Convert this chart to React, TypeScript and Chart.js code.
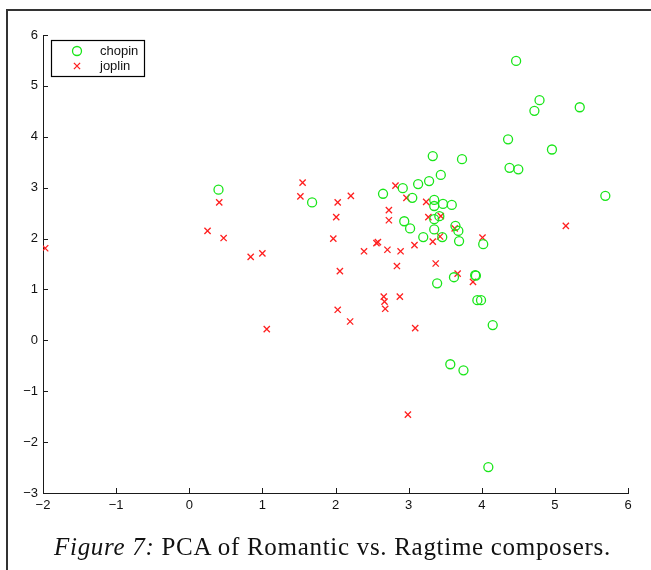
import React, { useEffect, useRef } from "react";
import { Chart, registerables } from "chart.js";

Chart.register(...registerables);

// PCA scores, first two components
const chopinX = [
  0.40, 1.68,
  4.47, 4.79, 4.72, 5.34, 4.36, 4.96, 4.38, 4.50, 5.69,
  3.33, 3.73, 3.44, 3.28, 3.13, 2.92, 2.65, 3.05, 3.35, 3.35, 3.47, 3.59,
  2.94, 3.02, 3.35, 3.42, 3.35, 3.20, 3.46, 3.64, 3.68, 3.69, 4.02,
  3.39, 3.62, 3.91, 3.92, 3.94, 3.99, 4.15, 3.57, 3.75, 4.09,
];
const chopinY = [
  2.96, 2.71,
  5.49, 4.72, 4.51, 4.58, 3.95, 3.75, 3.39, 3.36, 2.84,
  3.62, 3.56, 3.25, 3.13, 3.07, 2.99, 2.88, 2.80, 2.76, 2.64, 2.68, 2.66,
  2.34, 2.20, 2.38, 2.44, 2.18, 2.03, 2.03, 2.25, 2.15, 1.95, 1.89,
  1.12, 1.24, 1.28, 1.27, 0.79, 0.79, 0.30, -0.47, -0.59, -2.49,
];
const joplinX = [
  -1.97, 0.25, 0.41, 0.47, 0.84, 1.00, 1.06, 1.55, 1.52,
  1.97, 2.01, 2.03, 2.06, 2.03, 2.20, 2.21, 2.39, 2.56, 2.58, 2.71,
  2.73, 2.73, 2.82, 2.84, 2.89, 2.97, 2.66, 2.67, 2.68, 2.88,
  2.99, 3.09, 3.08, 3.24, 3.27, 3.44, 3.33, 3.43, 3.37, 3.63,
  3.67, 3.88, 4.01, 5.15,
];
const joplinY = [
  1.81, 2.15, 2.71, 2.01, 1.64, 1.71, 0.22, 3.10, 2.83,
  2.00, 2.42, 2.71, 1.36, 0.60, 0.37, 2.84, 1.75, 1.91, 1.93, 1.78,
  2.56, 2.36, 3.04, 1.46, 1.75, 2.80, 0.86, 0.76, 0.62, 0.86,
  -1.46, 0.24, 1.87, 2.72, 2.42, 2.44, 1.94, 2.04, 1.51, 2.20,
  1.31, 1.15, 2.02, 2.25,
];

const seriesNames = ["chopin", "joplin"];
const xTicks = [-2, -1, 0, 1, 2, 3, 4, 5, 6];
const yTicks = [-3, -2, -1, 0, 1, 2, 3, 4, 5, 6];

const GREEN = "#19e619";
const RED = "#ff1f1f";
const AXIS = "#1a1a1a";
const FONT = "'Liberation Sans', Arial, Helvetica, sans-serif";

const toPoints = (xs: number[], ys: number[]) => xs.map((x, i) => ({ x, y: ys[i] }));
const fmt = (v: number) => (v < 0 ? "\u2212" + Math.abs(v) : String(v));

// MATLAB-style inward tick marks plus the boxed legend in the upper-left corner
const decorations = {
  id: "decorations",
  afterDraw(chart: any) {
    const { ctx, chartArea, scales } = chart;
    const len = 5;
    ctx.save();
    ctx.strokeStyle = AXIS;
    ctx.lineWidth = 1;
    ctx.beginPath();
    xTicks.forEach((v) => {
      const px = Math.round(scales.x.getPixelForValue(v)) + 0.5;
      ctx.moveTo(px, chartArea.bottom);
      ctx.lineTo(px, chartArea.bottom - len);
    });
    yTicks.forEach((v) => {
      const py = Math.round(scales.y.getPixelForValue(v)) + 0.5;
      ctx.moveTo(chartArea.left, py);
      ctx.lineTo(chartArea.left + len, py);
    });
    ctx.stroke();

    // legend
    const bx = chartArea.left + 8;
    const by = chartArea.top + 5;
    const bw = 93;
    const bh = 36;
    ctx.fillStyle = "#ffffff";
    ctx.fillRect(bx, by, bw, bh);
    ctx.strokeStyle = "#000";
    ctx.lineWidth = 1.2;
    ctx.strokeRect(bx + 0.5, by + 0.5, bw, bh);

    const mx = bx + 26;
    const row1 = by + 11;
    const row2 = by + 26;
    ctx.lineWidth = 1.3;
    ctx.strokeStyle = GREEN;
    ctx.beginPath();
    ctx.arc(mx, row1, 4.5, 0, Math.PI * 2);
    ctx.stroke();
    ctx.strokeStyle = RED;
    ctx.beginPath();
    const r = 3.1;
    ctx.moveTo(mx - r, row2 - r);
    ctx.lineTo(mx + r, row2 + r);
    ctx.moveTo(mx + r, row2 - r);
    ctx.lineTo(mx - r, row2 + r);
    ctx.stroke();

    ctx.fillStyle = "#111";
    ctx.font = `13px ${FONT}`;
    ctx.textBaseline = "middle";
    ctx.textAlign = "left";
    ctx.fillText(seriesNames[0], bx + 49, row1);
    ctx.fillText(seriesNames[1], bx + 49, row2);
    ctx.restore();
  },
};

export default function App() {
  const canvasRef = useRef<HTMLCanvasElement | null>(null);

  useEffect(() => {
    if (!canvasRef.current) return;
    const chart = new Chart(canvasRef.current, {
      type: "scatter",
      data: {
        datasets: [
          {
            label: seriesNames[0],
            data: toPoints(chopinX, chopinY),
            pointStyle: "circle",
            pointRadius: 4.5,
            pointBorderWidth: 1.3,
            borderColor: GREEN,
            backgroundColor: "rgba(0,0,0,0)",
          },
          {
            label: seriesNames[1],
            data: toPoints(joplinX, joplinY),
            pointStyle: "crossRot",
            pointRadius: 4.4,
            pointBorderWidth: 1.3,
            borderColor: RED,
            backgroundColor: RED,
          },
        ],
      },
      options: {
        animation: false,
        responsive: false,
        maintainAspectRatio: false,
        events: [],
        layout: { padding: { left: 0, top: 35, right: 23, bottom: 52 } },
        plugins: {
          legend: { display: false },
          tooltip: { enabled: false },
        },
        scales: {
          x: {
            type: "linear",
            min: -2,
            max: 6,
            afterFit: (s: any) => {
              s.height = 25;
            },
            afterBuildTicks: (s: any) => {
              s.ticks = xTicks.map((v) => ({ value: v }));
            },
            grid: { display: false, drawTicks: false },
            border: { display: true, color: AXIS, width: 1 },
            ticks: {
              color: "#111",
              font: { family: FONT, size: 13 },
              padding: 5,
              maxRotation: 0,
              autoSkip: false,
              callback: (v: any) => fmt(Number(v)),
            },
          },
          y: {
            type: "linear",
            min: -3,
            max: 6,
            afterFit: (s: any) => {
              s.width = 43;
            },
            afterBuildTicks: (s: any) => {
              s.ticks = yTicks.map((v) => ({ value: v }));
            },
            grid: { display: false, drawTicks: false },
            border: { display: true, color: AXIS, width: 1 },
            ticks: {
              color: "#111",
              font: { family: FONT, size: 13 },
              padding: 5,
              autoSkip: false,
              callback: (v: any) => fmt(Number(v)),
            },
          },
        },
      },
      plugins: [decorations],
    });
    return () => chart.destroy();
  }, []);

  return (
    <div
      style={{
        position: "fixed",
        left: 0,
        top: 0,
        width: 651,
        height: 570,
        background: "#fff",
        overflow: "hidden",
      }}
    >
      <div
        style={{
          position: "absolute",
          left: 6,
          top: 9,
          width: 700,
          height: 600,
          borderLeft: "2px solid #333",
          borderTop: "2px solid #333",
        }}
      />
      <canvas
        ref={canvasRef}
        width={651}
        height={570}
        style={{ position: "absolute", left: 0, top: 0, width: 651, height: 570 }}
      />
      <div
        style={{
          position: "absolute",
          left: 7,
          width: 651,
          top: 533,
          textAlign: "center",
          fontFamily: "'Liberation Serif', 'Times New Roman', serif",
          fontSize: 25,
          letterSpacing: 0.7,
          color: "#111",
          whiteSpace: "nowrap",
        }}
      >
        <i>Figure 7:</i> PCA of Romantic vs. Ragtime composers.
      </div>
    </div>
  );
}
